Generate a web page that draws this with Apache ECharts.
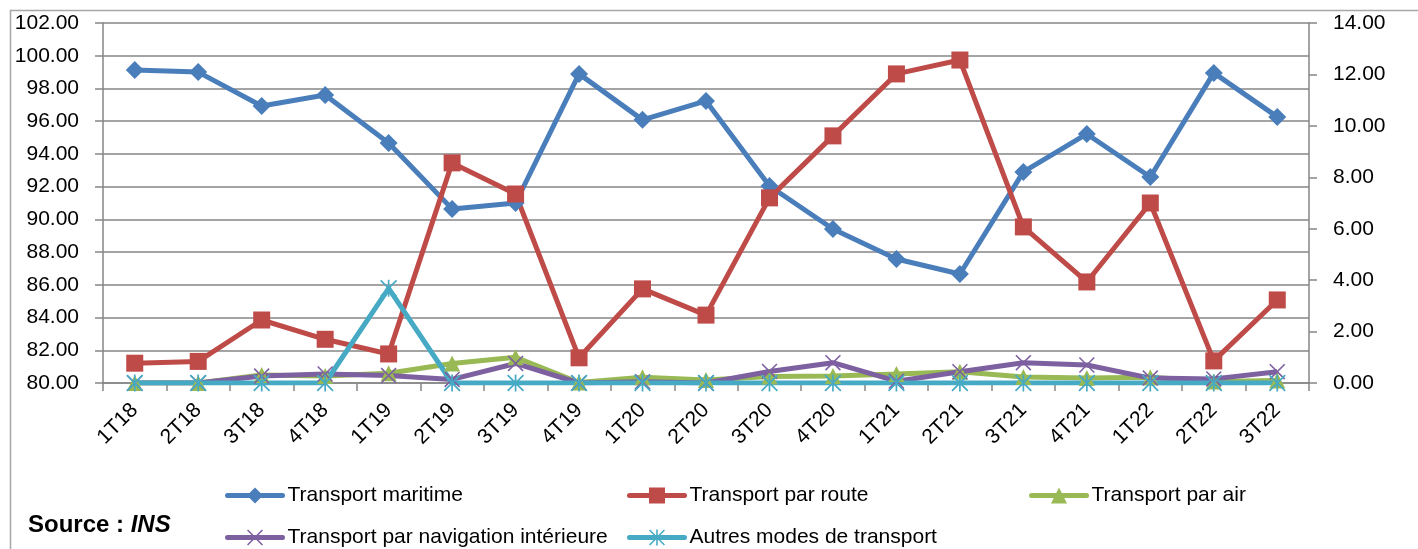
<!DOCTYPE html>
<html><head><meta charset="utf-8">
<script src="https://cdn.jsdelivr.net/npm/echarts@6/dist/echarts.min.js"></script>
<style>html,body{margin:0;padding:0;background:#fff}#c{width:1418px;height:549px}</style>
</head><body><div id="c"></div>
<script>
const categories = ['1T18','2T18','3T18','4T18','1T19','2T19','3T19','4T19','1T20','2T20','3T20','4T20','1T21','2T21','3T21','4T21','1T22','2T22','3T22'];
const maritime = [99.13,99.00,96.93,97.60,94.67,90.64,91.00,98.89,96.08,97.24,92.04,89.41,87.58,86.66,92.90,95.22,92.59,98.95,96.26];
const route = [0.77,0.84,2.45,1.70,1.13,8.56,7.35,0.98,3.66,2.64,7.20,9.61,12.02,12.56,6.07,3.93,7.00,0.86,3.23];
const air = [0.00,0.00,0.31,0.27,0.38,0.76,1.00,0.02,0.22,0.12,0.25,0.27,0.35,0.44,0.23,0.19,0.22,0.06,0.10];
const navigation = [0.00,0.00,0.27,0.35,0.29,0.14,0.76,0.00,0.05,0.00,0.45,0.79,0.07,0.44,0.79,0.70,0.19,0.16,0.44];
const autres = [0.00,0.00,0.00,0.00,3.68,0.00,0.00,0.00,0.00,0.00,0.00,0.00,0.00,0.00,0.00,0.00,0.00,0.00,0.00];
const leftTicks = {min:80, max:102, interval:2};
const rightTicks = {min:0, max:14, interval:2};
const names = ['Transport maritime','Transport par route','Transport par air','Transport par navigation intérieure','Autres modes de transport'];

const FONT = 'Liberation Sans, Arial, sans-serif';
const GRAY = '#868686';
const xPath = 'path://M0,0.7L0.7,0L10,9.3L9.3,10Z M9.3,0L10,0.7L0.7,10L0,9.3Z';
const starPath = 'path://M0,0.7L0.7,0L10,9.3L9.3,10Z M9.3,0L10,0.7L0.7,10L0,9.3Z M4.5,0H5.5V10H4.5Z';
const colors = ['#4A7EBB','#BE4B48','#98B954','#7D60A0','#46AAC5'];

function mk(name, data, color, symbol, size, yIdx){
  return {name, type:'line', data, yAxisIndex:yIdx, symbol, symbolSize:size,
    lineStyle:{color, width:5}, itemStyle:{color}, animation:false};
}
const series = [
  mk(names[0], maritime, colors[0], 'diamond', 18, 0),
  mk(names[1], route, colors[1], 'rect', 17, 1),
  mk(names[2], air, colors[2], 'triangle', 16, 1),
  mk(names[3], navigation, colors[3], xPath, 16, 1),
  mk(names[4], autres, colors[4], starPath, 17, 1)
];
const legPos = [[220,480],[622,480],[1024,480],[220,522],[622,522]];
const legends = names.map((n,i)=>({data:[n], left:legPos[i][0], top:legPos[i][1], itemWidth:55, itemHeight:20,
  lineStyle:{width:5, cap:'round', color:colors[i]},
  textStyle:{fontSize:21, color:'#000', fontFamily:FONT}}));

const chart = echarts.init(document.getElementById('c'), null, {renderer:'canvas'});
chart.setOption({
  backgroundColor:'#fff',
  animation:false,
  textStyle:{fontFamily:FONT},
  grid:{left:103, right:109, top:23, bottom:166, containLabel:false},
  legend: legends,
  graphic:[
    {type:'rect', left:8, top:8, shape:{width:1420, height:560}, style:{fill:'none', stroke:'#a6a6a6', lineWidth:1.5}, silent:true},
    {type:'text', left:28, top:513, style:{text:'{b|Source : }{i|INS}', rich:{
      b:{fontSize:24, fontWeight:'bold', fontFamily:FONT, fill:'#000'},
      i:{fontSize:24, fontWeight:'bold', fontStyle:'italic', fontFamily:FONT, fill:'#000'}}}}
  ],
  xAxis:{type:'category', data:categories, boundaryGap:true,
    axisLine:{lineStyle:{color:GRAY, width:1.5}},
    axisTick:{show:true, alignWithLabel:false, length:8, lineStyle:{color:GRAY, width:1.5}},
    axisLabel:{rotate:45, fontSize:21, color:'#000', margin:24, interval:0, fontFamily:FONT},
    splitLine:{show:false}},
  yAxis:[
    {type:'value', min:leftTicks.min, max:leftTicks.max, interval:leftTicks.interval, position:'left',
      axisLine:{show:true, lineStyle:{color:GRAY, width:1.5}},
      axisTick:{show:true, length:8, lineStyle:{color:GRAY, width:1.5}},
      axisLabel:{formatter:v=>v.toFixed(2), fontSize:21, color:'#000', margin:24, fontFamily:FONT},
      splitLine:{show:true, lineStyle:{color:GRAY, width:1.5}}},
    {type:'value', min:rightTicks.min, max:rightTicks.max, interval:rightTicks.interval, position:'right',
      axisLine:{show:true, lineStyle:{color:GRAY, width:1.5}},
      axisTick:{show:true, length:8, lineStyle:{color:GRAY, width:1.5}},
      axisLabel:{formatter:v=>v.toFixed(2), fontSize:21, color:'#000', margin:24, fontFamily:FONT, align:'left'},
      splitLine:{show:false}}
  ],
  series
});
</script></body></html>
